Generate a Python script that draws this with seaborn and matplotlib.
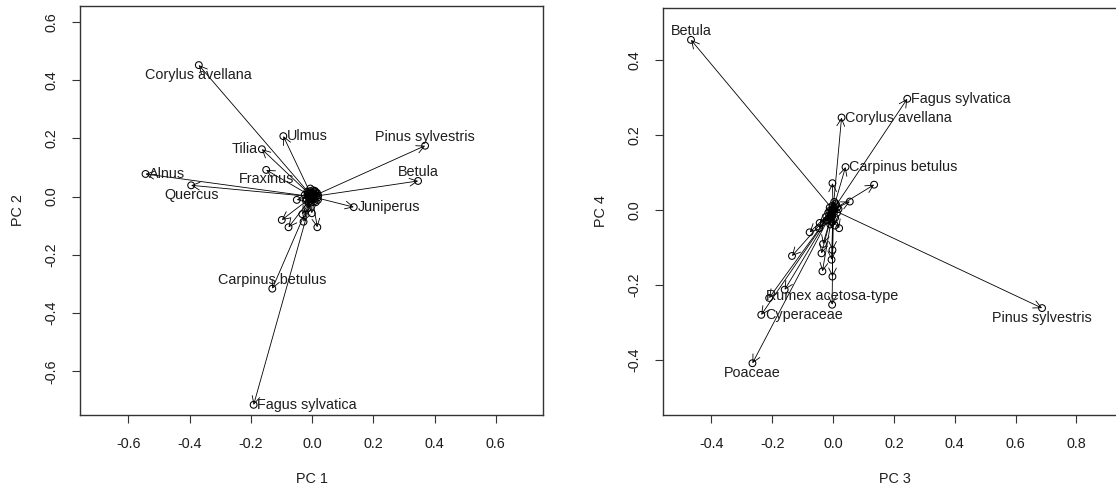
import matplotlib
matplotlib.use("Agg")
import matplotlib.pyplot as plt
import seaborn as sns
import pandas as pd

# ---- loadings on PC1 / PC2 (named taxa) ----
taxa_12 = ["Corylus avellana", "Ulmus", "Pinus sylvestris", "Tilia", "Fraxinus",
           "Alnus", "Quercus", "Betula", "Juniperus", "Carpinus betulus",
           "Fagus sylvatica"]
pc1 = [-0.370, -0.094, 0.369, -0.164, -0.150, -0.544, -0.395, 0.346, 0.136, -0.130, -0.191]
pc2 = [0.452, 0.208, 0.175, 0.163, 0.092, 0.078, 0.039, 0.054, -0.036, -0.316, -0.715]

# remaining (unnamed) taxa on PC1 / PC2
other_pc1 = [-0.099, -0.077, 0.017, -0.050, -0.032, -0.001, -0.015, -0.028,
             0.015, 0.018, 0.010, -0.007, 0.003, -0.014, -0.018, 0.008, -0.012, 0.020,
             -0.004, 0.016, -0.013, 0.006, 0.009, -0.020, 0.012, 0.002, -0.009, 0.019,
             -0.024, -0.006, 0.004, -0.016, 0.013, -0.003, -0.010, 0.007]
other_pc2 = [-0.080, -0.105, -0.105, -0.011, -0.060, -0.057, -0.040, -0.086,
             0.009, -0.003, 0.016, 0.019, 0.022, 0.010, -0.008, -0.015, -0.018, 0.004,
             -0.020, 0.013, 0.003, -0.009, 0.020, -0.014, -0.019, 0.007, 0.013, -0.011,
             0.006, 0.028, 0.012, 0.017, 0.002, -0.006, -0.004, 0.003]

# ---- loadings on PC3 / PC4 (named taxa) ----
taxa_34 = ["Betula", "Fagus sylvatica", "Corylus avellana", "Carpinus betulus",
           "Pinus sylvestris", "Rumex acetosa-type", "Cyperaceae", "Poaceae"]
pc3 = [-0.467, 0.244, 0.028, 0.041, 0.687, -0.003, -0.236, -0.265]
pc4 = [0.453, 0.296, 0.246, 0.114, -0.262, -0.253, -0.280, -0.409]

# remaining (unnamed) taxa on PC3 / PC4
other_pc3 = [0.135, -0.002, 0.055, -0.077, -0.046, 0.020, -0.135, -0.038, -0.033,
             -0.002, -0.035, -0.002, -0.005, -0.210, -0.159, -0.044,
             0.009, 0.014, -0.007, -0.014, 0.004, -0.011, 0.013, -0.020, -0.004,
             0.007, -0.016, 0.018, -0.002, -0.009, 0.006, -0.022, 0.002, -0.012,
             0.010, -0.005]
other_pc4 = [0.067, 0.071, 0.022, -0.060, -0.049, -0.049, -0.123, -0.116, -0.091,
             -0.107, -0.164, -0.178, -0.133, -0.235, -0.213, -0.035,
             0.017, 0.007, -0.014, -0.021, 0.021, 0.006, -0.008, -0.028, -0.032,
             -0.021, -0.008, 0.002, 0.011, -0.039, -0.042, -0.018, 0.004, -0.003,
             0.012, -0.010]

# where each name sits relative to its point: 1 below, 2 left, 3 above, 4 right
side_12 = {"Corylus avellana": 1, "Ulmus": 4, "Pinus sylvestris": 3, "Tilia": 2,
           "Fraxinus": 1, "Alnus": 4, "Quercus": 1, "Betula": 3, "Juniperus": 4,
           "Carpinus betulus": 3, "Fagus sylvatica": 4}
side_34 = {"Betula": 3, "Fagus sylvatica": 4, "Corylus avellana": 4,
           "Carpinus betulus": 4, "Pinus sylvestris": 1, "Rumex acetosa-type": 3,
           "Cyperaceae": 4, "Poaceae": 1}

sns.set_theme(style="white")
plt.rcParams["font.family"] = ["Liberation Sans", "DejaVu Sans"]

INK = "#1e1e1e"
FS = 10.4

OFFSETS = {1: ((0, -6.9), "center", "center"),
           2: ((-3.2, 0), "right", "center"),
           3: ((0, 6.4), "center", "center"),
           4: ((2.7, 0), "left", "center")}


def biplot(ax, xs, ys, names, oxs, oys, sides, xlim, ylim, xticks, yticks, xlab, ylab):
    all_x = list(xs) + list(oxs)
    all_y = list(ys) + list(oys)
    for x, y in zip(all_x, all_y):
        ax.annotate("", xy=(x, y), xytext=(0, 0), xycoords="data",
                    arrowprops=dict(arrowstyle="->,head_length=0.55,head_width=0.28",
                                    lw=0.6, color="black", shrinkA=0, shrinkB=0,
                                    mutation_scale=10))
    df = pd.DataFrame({"x": all_x, "y": all_y})
    sns.scatterplot(data=df, x="x", y="y", ax=ax, marker="o", s=24,
                    facecolor="none", edgecolor="black", linewidth=0.75,
                    legend=False, zorder=3)
    for name, x, y in zip(names, xs, ys):
        off, ha, va = OFFSETS[sides[name]]
        ax.annotate(name, xy=(x, y), xytext=off, textcoords="offset points",
                    ha=ha, va=va, fontsize=FS, color=INK)
    ax.set_xlim(*xlim)
    ax.set_ylim(*ylim)
    ax.set_xticks(xticks)
    ax.set_xticklabels([f"{t:.1f}" for t in xticks])
    ax.set_yticks(yticks)
    ax.set_yticklabels([f"{t:.1f}" for t in yticks], rotation=90, va="center")
    ax.tick_params(direction="out", length=6, width=0.8, pad=9.5, labelsize=FS,
                   color="#333333", labelcolor=INK, bottom=True, left=True)
    for sp in ax.spines.values():
        sp.set_visible(True)
        sp.set_linewidth(1.0)
        sp.set_color("#333333")
    ax.set_xlabel(xlab, fontsize=FS, color=INK)
    ax.set_ylabel(ylab, fontsize=FS, color=INK)
    ax.xaxis.label.set_va("center")
    ax.yaxis.label.set_va("center")
    ax.xaxis.set_label_coords(0.5, -0.157, transform=ax.transAxes)
    ax.yaxis.set_label_coords(-0.134, 0.5, transform=ax.transAxes)
    ax.grid(False)


fig = plt.figure(figsize=(11.16, 4.9), dpi=100)
ax1 = fig.add_axes([80 / 1116, 75 / 490, 463 / 1116, 409 / 490])
ax2 = fig.add_axes([663 / 1116, 75 / 490, 463 / 1116, 407 / 490])

ticks_pm6 = [-0.6, -0.4, -0.2, 0.0, 0.2, 0.4, 0.6]
biplot(ax1, pc1, pc2, taxa_12, other_pc1, other_pc2, side_12,
       (-0.758, 0.754), (-0.750, 0.655), ticks_pm6, ticks_pm6, "PC 1", "PC 2")
biplot(ax2, pc3, pc4, taxa_34, other_pc3, other_pc4, side_34,
       (-0.559, 0.963), (-0.547, 0.538),
       [-0.4, -0.2, 0.0, 0.2, 0.4, 0.6, 0.8], [-0.4, -0.2, 0.0, 0.2, 0.4],
       "PC 3", "PC 4")

fig.savefig("out.png", dpi=100)
